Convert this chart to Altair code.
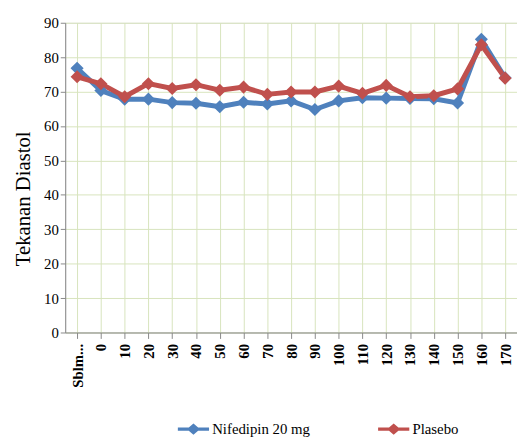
import altair as alt
import pandas as pd

categories = ["Sblm...", "0", "10", "20", "30", "40", "50", "60", "70", "80",
              "90", "100", "110", "120", "130", "140", "150", "160", "170"]
nifedipin = [76.8, 70.3, 67.8, 67.8, 66.8, 66.6, 65.6, 66.9, 66.4, 67.3,
             64.8, 67.3, 68.2, 68.1, 68.0, 67.9, 66.7, 85.2, 74.0]
plasebo = [74.3, 72.3, 68.5, 72.3, 70.9, 72.0, 70.4, 71.3, 69.2, 69.9,
           69.9, 71.6, 69.5, 71.8, 68.5, 68.8, 70.8, 83.6, 73.9]
series = ["Nifedipin 20 mg", "Plasebo"]
colors = ["#4F81BD", "#C0504D"]

rows = []
for i, c in enumerate(categories):
    rows.append({"cat": c, "series": series[0], "value": nifedipin[i], "order": i})
    rows.append({"cat": c, "series": series[1], "value": plasebo[i], "order": i})
df = pd.DataFrame(rows)

legend_path = ("M-1,-0.1 L-0.3,-0.1 L0,-0.36 L0.3,-0.1 L1,-0.1 L1,0.1 "
               "L0.3,0.1 L0,0.36 L-0.3,0.1 L-1,0.1 Z")

x = alt.X("cat:N", sort=categories, title=None,
          scale=alt.Scale(paddingInner=0, paddingOuter=0),
          axis=alt.Axis(bandPosition=0, labelAngle=270, labelAlign="right",
                        labelBaseline="middle", labelFont="Liberation Serif",
                        labelFontSize=15, labelFontWeight="bold", labelColor="#000",
                        labelPadding=5, tickSize=6, tickColor="#888",
                        domainColor="#888", grid=True, gridColor="#D7E4BD",
                        labelBound=False, labelOverlap=False))
y = alt.Y("value:Q", title="Tekanan Diastol",
          scale=alt.Scale(domain=[0, 90], nice=False),
          axis=alt.Axis(values=list(range(0, 91, 10)), labelFont="Liberation Serif",
                        labelFontSize=15, labelColor="#000", tickSize=5,
                        tickColor="#888", domainColor="#888", gridColor="#D7E4BD",
                        titleFont="Liberation Serif", titleFontSize=21,
                        titleFontWeight="normal", titleColor="#000",
                        titlePadding=10, titleY=178))
color = alt.Color("series:N", sort=series,
                  scale=alt.Scale(domain=series, range=colors),
                  legend=alt.Legend(title=None, orient="none", direction="horizontal",
                                    legendX=114, legendY=396, symbolType=legend_path,
                                    symbolSize=1000, symbolStrokeWidth=0,
                                    columnPadding=68, labelFont="Liberation Sans Narrow",
                                    labelFontSize=15, labelColor="#000", labelOffset=3))

lines = alt.Chart(df).mark_line(strokeWidth=5).encode(
    x=x, y=y, color=color, order="order:Q", detail="series:N")
points = alt.Chart(df).mark_point(shape="diamond", size=95, filled=True,
                                  strokeWidth=2.5, opacity=1).encode(
    x=x, y=y, color=color, stroke=alt.Stroke("series:N", sort=series,
                                               scale=alt.Scale(domain=series, range=colors),
                                               legend=None))

chart = alt.layer(lines, points).properties(
    width=458, height=314,
    padding={"left": 58, "top": 12, "right": 0, "bottom": 105},
    autosize=alt.AutoSizeParams(type="none"),
).configure_view(stroke="#D7E4BD").configure(background="white")

chart.save("out.html", embed_options={"renderer": "svg", "actions": False})
